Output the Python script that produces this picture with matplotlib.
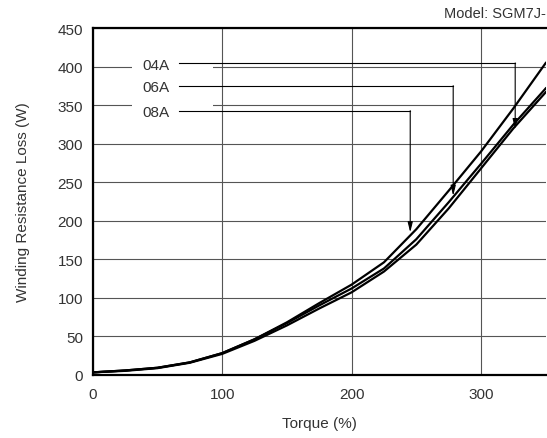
import numpy as np
import matplotlib.pyplot as plt
from matplotlib.patches import Rectangle

plt.rcParams["font.family"] = ["Liberation Sans", "DejaVu Sans"]

# Torque (%) sample points and winding resistance loss (W) per model
torque = [0, 25, 50, 75, 100, 125, 150, 175, 200, 225, 250, 275, 300, 325, 350]
loss_a = [3, 5.5, 9, 16, 28, 46, 68, 93, 117, 146, 189, 239, 290, 346, 405]
loss_b = [3, 5.5, 9, 16, 28, 46, 67, 90, 112, 138, 176, 224, 274, 325, 372]
loss_c = [3, 5, 8.5, 15.5, 27, 44, 64, 86, 107, 134, 169, 216, 268, 320, 367]

# labels with leader lines: (label, leader y, corner x, arrow tip y)
labels = ["04A", "06A", "08A"]
leader_y = [405, 375.5, 343]
corner_x = [326.4, 278.5, 245.3]
tip_y = [319, 232.5, 185]

x_ticks = [0, 100, 200, 300]
y_ticks = list(range(0, 451, 50))

fig = plt.figure(figsize=(5.47, 4.39), dpi=100)
ax = fig.add_axes([0.1695, 0.1442, 0.8282, 0.789])

ax.set_xlim(0, 350)
ax.set_ylim(0, 450)
ax.set_xticks(x_ticks)
ax.set_yticks(y_ticks)
ax.tick_params(length=0, labelsize=11, colors="#333333")
ax.tick_params(axis="x", pad=9)
ax.tick_params(axis="y", pad=7)
ax.grid(color="#555555", lw=0.8, zorder=0.5)
ax.set_axisbelow(True)

for side in ["left", "bottom", "top"]:
    ax.spines[side].set_linewidth(1.6)
ax.spines["right"].set_visible(False)

# white patch hiding gridlines behind labels
ax.add_patch(Rectangle((30.4, 335), 62.6, 75, facecolor="white",
                       edgecolor="none", zorder=1))

for x_col in [loss_a, loss_b, loss_c]:
    ax.plot(torque, x_col, color="black", lw=1.6, zorder=3)

for lab, ly, cx, ty in zip(labels, leader_y, corner_x, tip_y):
    ax.text(49, ly - 2, lab, ha="center", va="center", fontsize=11,
            color="#333333", zorder=4)
    ax.plot([67, cx], [ly, ly], color="black", lw=0.8, zorder=4)
    ax.annotate("", xy=(cx, ty), xytext=(cx, ly),
                arrowprops=dict(arrowstyle="-|>,head_length=0.6,head_width=0.15",
                                color="black", lw=0.8, shrinkA=0, shrinkB=0),
                zorder=4)

ax.set_xlabel("Torque (%)", fontsize=11, color="#333333", labelpad=11)
ax.set_ylabel("Winding Resistance Loss (W)", fontsize=11, color="#333333",
              labelpad=20)
fig.text(0.998, 0.968, "Model: SGM7J-", ha="right", va="center",
         fontsize=10.5, color="#333333")

fig.savefig("out.png", dpi=100)
